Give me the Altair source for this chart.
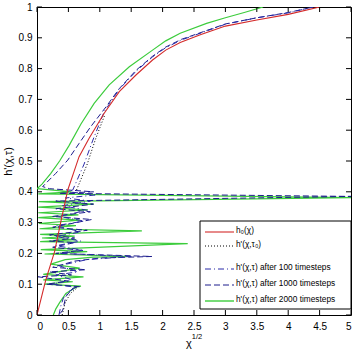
import altair as alt
import pandas as pd

# ---------------- data (x = chi^(1/2), y = h) ----------------
red_x = [0, 0.14, 0.28, 0.38, 0.49, 0.58, 0.67, 0.83, 1.07, 1.31, 1.58, 1.84, 2.05, 2.28, 2.60, 3.00, 3.50, 4.00, 4.50]
red_y = [0, 0.114, 0.206, 0.303, 0.406, 0.46, 0.514, 0.574, 0.655, 0.725, 0.78, 0.828, 0.86, 0.885, 0.91, 0.938, 0.958, 0.976, 1.0]

green_x = [0.26, 0.30, 0.36, 0.46, 0.62, 0.70,
           0.12, 0.57, 0.10, 0.74, 0.10, 0.68, 0.22, 0.45, 0.90, 1.50, 0.12, 0.80, 0.06, 2.40,
           0.05, 0.62, 0.08, 0.60, 0.05, 1.67, 0.04, 0.62, 0.03, 0.68, 0.02, 0.66, 0.02, 0.81,
           0.02, 0.90, 0.03, 5.00, 0.02, 0.55, 0.00,
           0.08, 0.22, 0.36, 0.51, 0.70, 0.91, 1.15, 1.47, 1.84, 2.05, 2.28, 2.70, 3.00, 3.30, 3.60]
green_y = [0.00, 0.02, 0.04, 0.07, 0.09, 0.094,
           0.100, 0.108, 0.114, 0.124, 0.132, 0.152, 0.165, 0.180, 0.188, 0.190, 0.198, 0.206, 0.212, 0.232,
           0.238, 0.245, 0.250, 0.256, 0.262, 0.273, 0.280, 0.290, 0.297, 0.308, 0.316, 0.325, 0.332, 0.341,
           0.350, 0.360, 0.368, 0.381, 0.393, 0.400, 0.410,
           0.425, 0.460, 0.500, 0.550, 0.620, 0.687, 0.747, 0.806, 0.860, 0.890, 0.915, 0.947, 0.965, 0.982, 1.000]

dashed_x = [0.37, 0.41, 0.46, 0.57, 0.68,
            0.15, 0.50, 0.02, 0.55, 0.20, 0.78, 0.25, 0.60, 1.00, 1.83, 0.30, 0.70, 0.25, 0.60,
            0.20, 0.60, 0.20, 0.80, 0.25, 0.87, 0.25, 0.85, 0.30, 0.90, 0.30, 5.00, 0.35, 0.90, 0.20,
            0.09, 0.30, 0.49, 0.67, 0.85, 1.10, 1.31, 1.58, 1.84, 2.05, 2.30, 3.00, 3.50, 4.00, 4.40]
dashed_y = [0.005, 0.016, 0.06, 0.087, 0.092,
            0.100, 0.110, 0.124, 0.130, 0.140, 0.147, 0.155, 0.175, 0.185, 0.190, 0.200, 0.210, 0.220, 0.235,
            0.240, 0.250, 0.260, 0.275, 0.285, 0.310, 0.320, 0.335, 0.345, 0.360, 0.370, 0.385, 0.395, 0.400, 0.410,
            0.417, 0.460, 0.503, 0.557, 0.610, 0.676, 0.735, 0.795, 0.840, 0.870, 0.895, 0.945, 0.965, 0.982, 1.000]

dashdot_x = [0.35, 0.38, 0.42, 0.50, 0.62,
             0.25, 0.55, 0.30, 0.65, 0.35, 0.80, 1.50, 0.35, 0.75, 0.30, 0.70, 0.30, 0.70, 0.30,
             0.75, 0.35, 0.80, 0.40, 0.85, 0.45, 0.95, 0.50, 0.57,
             0.75, 0.89, 1.07, 1.31, 1.58, 1.84, 2.05, 2.30, 3.00, 3.50, 4.00, 4.40]
dashdot_y = [0.00, 0.03, 0.055, 0.075, 0.09,
             0.100, 0.115, 0.130, 0.140, 0.160, 0.180, 0.190, 0.200, 0.210, 0.225, 0.240, 0.255, 0.270, 0.290,
             0.305, 0.320, 0.340, 0.355, 0.370, 0.380, 0.390, 0.400, 0.406,
             0.490, 0.568, 0.660, 0.733, 0.792, 0.838, 0.868, 0.893, 0.944, 0.965, 0.981, 1.000]

dotted_x = [0.40, 0.45, 0.53, 0.65, None, 0.63, 0.80, 0.93, 1.08]
dotted_y = [0.00, 0.04, 0.07, 0.09, None, 0.406, 0.49, 0.57, 0.65]

x_ticks = [0, 0.5, 1, 1.5, 2, 2.5, 3, 3.5, 4, 4.5, 5]
y_ticks = [0, 0.1, 0.2, 0.3, 0.4, 0.5, 0.6, 0.7, 0.8, 0.9, 1]

legend_labels = ["h\u2080(\u03c7)", "h'(\u03c7,\u03c4\u2080)", "h'(\u03c7,\u03c4) after 100 timesteps",
                 "h'(\u03c7,\u03c4) after 1000 timesteps", "h'(\u03c7,\u03c4) after 2000 timesteps"]

# ---------------- layout / style ----------------
W, H = 314, 308
FONT = "Liberation Sans"
RED, GREEN, BLUE_D, BLUE_DD, BLACK = "#d42a2a", "#3ccc3c", "#1c1c8c", "#2a2aa8", "#000000"


def path_df(xs, ys):
    rows, seg = [], 0
    for i, (a, b) in enumerate(zip(xs, ys)):
        if a is None:
            seg += 1
            continue
        rows.append({"x": a, "y": b, "i": i, "seg": seg})
    return pd.DataFrame(rows)


xs = alt.Scale(domain=[0, 5], nice=False, zero=False)
ys = alt.Scale(domain=[0, 1], nice=False, zero=False)

x_axis = alt.Axis(values=x_ticks, format="~g", ticks=False, domain=False, grid=False,
                  labelFontSize=10, labelPadding=6, labelFont=FONT, labelColor="black",
                  title=None)
y_axis = alt.Axis(values=y_ticks, format="~g", ticks=False, domain=False, grid=False,
                  labelFontSize=10, labelPadding=5, labelFont=FONT, labelColor="black",
                  title="h'(\u03c7,\u03c4)", titleFont=FONT, titleFontSize=11, titleFontWeight="normal",
                  titleX=-29, titleY=154, titleAngle=270, titleAlign="center", titleBaseline="middle",
                  titleColor="black")


def line_layer(xs_, ys_, color, dash=None, width=1.0):
    kw = dict(stroke=color, strokeWidth=width, clip=True)
    if dash:
        kw["strokeDash"] = dash
    return alt.Chart(path_df(xs_, ys_)).mark_line(**kw).encode(
        x=alt.X("x:Q", scale=xs, axis=x_axis),
        y=alt.Y("y:Q", scale=ys, axis=y_axis),
        order="i:Q",
        detail="seg:N",
    )


green = line_layer(green_x, green_y, GREEN, width=1.2)
dashed = line_layer(dashed_x, dashed_y, BLUE_D, dash=[6, 3])
dashdot = line_layer(dashdot_x, dashdot_y, BLUE_DD, dash=[6, 3, 1, 3])
dotted = line_layer(dotted_x, dotted_y, BLACK, dash=[1, 2])
red = line_layer(red_x, red_y, RED, width=1.1)

# inward ticks on all four sides
xt = pd.DataFrame({"x": x_ticks})
yt = pd.DataFrame({"y": y_ticks})
tick_b = alt.Chart(xt).mark_rule(color="black").encode(
    x=alt.X("x:Q", scale=xs, axis=x_axis), y=alt.value(H), y2=alt.value(H - 5))
tick_t = alt.Chart(xt).mark_rule(color="black").encode(
    x=alt.X("x:Q", scale=xs, axis=x_axis), y=alt.value(0), y2=alt.value(5))
tick_l = alt.Chart(yt).mark_rule(color="black").encode(
    y=alt.Y("y:Q", scale=ys, axis=y_axis), x=alt.value(0), x2=alt.value(5))
tick_r = alt.Chart(yt).mark_rule(color="black").encode(
    y=alt.Y("y:Q", scale=ys, axis=y_axis), x=alt.value(W), x2=alt.value(W - 5))

# legend box
one = pd.DataFrame({"a": [0]})
lg_box = alt.Chart(one).mark_rect(fill="white", stroke="black", strokeWidth=1).encode(
    x=alt.value(163), x2=alt.value(W), y=alt.value(214), y2=alt.value(302))

row_y = [225, 239, 262, 278, 294]
styles = [(RED, None, 1.1), (BLACK, [1, 2], 1.0), (BLUE_DD, [6, 3, 1, 3], 1.0),
          (BLUE_D, [6, 3], 1.0), (GREEN, None, 1.4)]
legend_layers = []
for lab, yy, (col, dash, sw) in zip(legend_labels, row_y, styles):
    kw = dict(color=col, strokeWidth=sw)
    if dash:
        kw["strokeDash"] = dash
    legend_layers.append(
        alt.Chart(one).mark_rule(**kw).encode(
            x=alt.value(168), x2=alt.value(197), y=alt.value(yy)))
    legend_layers.append(
        alt.Chart(one).mark_text(
            align="left", baseline="middle", font=FONT, fontSize=8.3, color="black").encode(
            x=alt.value(199), y=alt.value(yy - 1), text=alt.value(lab)))

# x axis title chi^(1/2)
xt1 = alt.Chart(one).mark_text(
    align="center", baseline="middle", font=FONT, fontSize=11, color="black").encode(
    x=alt.value(152), y=alt.value(337), text=alt.value("\u03c7"))
xt2 = alt.Chart(one).mark_text(
    align="center", baseline="middle", font=FONT, fontSize=7.5, color="black").encode(
    x=alt.value(160), y=alt.value(330), text=alt.value("1/2"))

chart = alt.layer(
    green, dashed, dashdot, dotted, red,
    tick_b, tick_t, tick_l, tick_r,
    lg_box, *legend_layers, xt1, xt2,
).properties(
    width=W, height=H,
    padding={"left": 37, "top": 7, "right": 8, "bottom": 38},
    autosize=alt.AutoSizeParams(type="none"),
    background="white",
).configure_view(stroke="black", strokeWidth=1)

chart.save("out.html", embed_options={"renderer": "svg", "actions": False})
